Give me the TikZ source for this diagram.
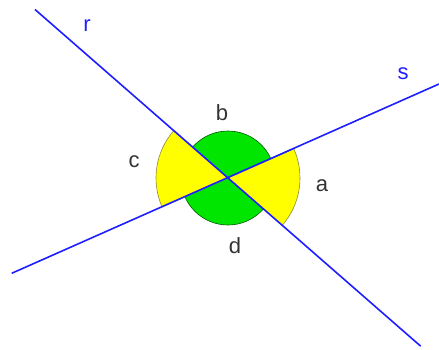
\documentclass[tikz,border=0pt]{standalone}
\usepackage{fontspec}
\setmainfont{Liberation Sans}
\usetikzlibrary{positioning}
\definecolor{lineblue}{HTML}{1E1EFF}
\definecolor{discgreen}{HTML}{00E600}
\definecolor{wedgeyellow}{HTML}{FFFF00}
\definecolor{labelgray}{HTML}{333333}

\begin{document}
\begin{tikzpicture}[x=1pt, y=1pt,
    font=\fontsize{22}{26}\selectfont,
    line/.style={draw=lineblue, line width=1.6pt},
    disc/.style={fill=discgreen, draw=green!35!black, line width=.6pt},
    wedge/.style={fill=wedgeyellow, draw=olive!60!gray, line width=.6pt},
    anglelabel/.style={text=labelgray, inner sep=0pt},
    linelabel/.style={text=lineblue, inner sep=0pt}
  ]
    \useasboundingbox (0,0) rectangle (439,349);

    % crossing point and line ends
    \coordinate (O) at (228,171);
    \coordinate (r1) at (35,339.5);
    \coordinate (r2) at (420.7,2.8);
    \coordinate (s1) at (11.7,75.7);
    \coordinate (s2) at (439,265);

    % angles b and d
    \draw[disc] (O) circle[radius=47];

    % angles a and c
    \draw[wedge] (O) -- ++(-41.2:72) arc[start angle=-41.2, end angle=23.8, radius=72] -- cycle;
    \draw[wedge] (O) -- ++(138.8:72) arc[start angle=138.8, end angle=203.8, radius=72] -- cycle;

    \draw[line] (r1) -- (r2);
    \draw[line] (s1) -- (s2);

    \node[linelabel] (rlabel) at (87,323) {r};
    \node[linelabel] (slabel) at (403,275) {s};
    \node[anglelabel] (alabel) at (322,163) {a};
    \node[anglelabel] (blabel) at (222,236) {b};
    \node[anglelabel] (clabel) at (134,187) {c};
    \node[anglelabel] (dlabel) at (235,103) {d};
  \end{tikzpicture}
\end{document}
